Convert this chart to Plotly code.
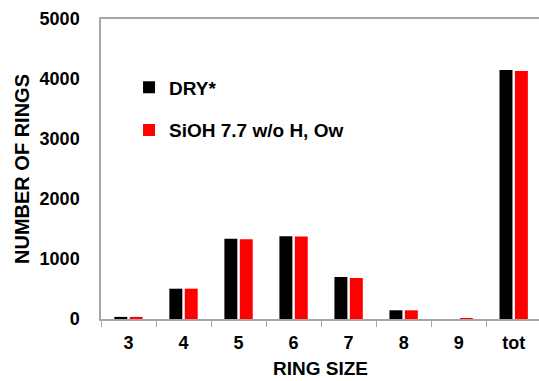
import plotly.graph_objects as go

# Ring-size statistics for the two systems
ring_sizes = ["3", "4", "5", "6", "7", "8", "9", "tot"]
dry_counts = [35, 505, 1338, 1378, 700, 145, 0, 4150]
sioh_counts = [35, 505, 1328, 1376, 683, 145, 15, 4133]

series_names = ["DRY*", "SiOH 7.7 w/o H, Ow"]
series_colors = ["#000000", "#ff0000"]

FONT = "Liberation Sans, Arial, sans-serif"
AXIS_GRAY = "#a6a6a6"

fig = go.Figure()
for name, vals, color, grp in zip(series_names, [dry_counts, sioh_counts],
                                  series_colors, ["g1", "g2"]):
    fig.add_trace(go.Bar(
        x=ring_sizes, y=vals, name=name, legendgroup=grp,
        marker=dict(color=color, line=dict(width=0)),
    ))

fig.update_layout(
    width=539, height=381,
    margin=dict(l=101, r=0, t=19, b=62),
    paper_bgcolor="white", plot_bgcolor="white",
    barmode="group", bargap=0.44, bargroupgap=0.16,
    font=dict(family=FONT, color="black"),
    legend=dict(
        x=0.064, y=0.835, xanchor="left", yanchor="top",
        bgcolor="rgba(0,0,0,0)", borderwidth=0,
        font=dict(family=FONT, size=19, color="black", weight="bold"),
        tracegroupgap=15, traceorder="grouped",
    ),
    showlegend=True,
    # x-axis title placed low, close to the bottom edge
    annotations=[dict(
        text="RING SIZE", xref="paper", yref="paper", x=0.5, y=-0.165,
        xanchor="center", yanchor="middle", showarrow=False, borderpad=0,
        font=dict(family=FONT, size=19, color="black", weight="bold"),
    )],
)

fig.update_xaxes(
    type="category", range=[-0.5, 7.46], automargin=False,
    showline=True, linecolor=AXIS_GRAY, linewidth=1.5, mirror=True,
    ticks="outside", tickson="boundaries", ticklen=6, tickcolor=AXIS_GRAY,
    tickwidth=1.2, showgrid=False, zeroline=False, ticklabelstandoff=7,
    tickfont=dict(family=FONT, size=18, color="black", weight="bold"),
)

fig.update_yaxes(
    range=[0, 5000], tickvals=[0, 1000, 2000, 3000, 4000, 5000],
    automargin=False,
    showline=True, linecolor=AXIS_GRAY, linewidth=1.5,
    ticks="", showgrid=False, zeroline=False, ticklabelstandoff=16,
    tickfont=dict(family=FONT, size=18, color="black", weight="bold"),
    title=dict(text="NUMBER OF RINGS", standoff=5,
               font=dict(family=FONT, size=20, color="black", weight="bold")),
)

fig.write_html("out.html")
